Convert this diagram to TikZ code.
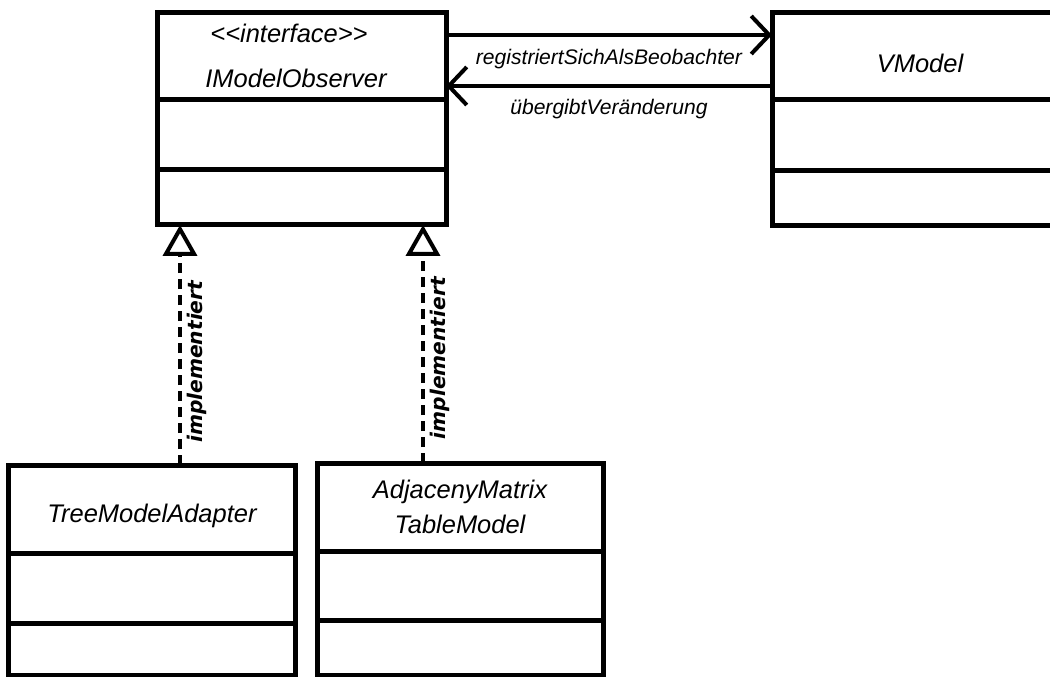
\documentclass[tikz,border=0pt]{standalone}
\usepackage{fontspec}
\usepackage{tikz}
\usetikzlibrary{arrows.meta, positioning}

\newfontfamily\umlfont{Liberation Sans}
\newfontfamily\notefont{DejaVu Sans}

\tikzset{
    classbox/.style={draw, rectangle, line width=0.1cm, anchor=north west,
        inner sep=0pt, outer sep=0pt},
    classline/.style={line width=0.1cm},
    classname/.style={font=\umlfont\itshape\fontsize{14.5}{20}\selectfont,
        anchor=base, align=center},
    msgarrow/.style={line width=0.08cm,
        -{Straight Barb[length=0.36cm, width=0.76cm]}},
    msglabel/.style={font=\umlfont\itshape\fontsize{12}{14}\selectfont,
        anchor=base},
    realizes/.style={line width=0.08cm, dash pattern=on 0.2cm off 0.12cm,
        -{Triangle[open, length=0.62cm, width=0.68cm]}},
    reallabel/.style={font=\notefont\bfseries\itshape\fontsize{11.5}{13}\selectfont,
        rotate=90, anchor=north, inner sep=3pt}
}

\begin{document}
\begin{tikzpicture}[x=1cm, y=1cm]
\useasboundingbox (0,0) rectangle (21,-13.54);
\clip (0,0) rectangle (21,-13.54);

% === class boxes ===
\node[classbox, minimum width=5.78cm, minimum height=4.24cm] (observer) at (3.14,-0.26) {};
\node[classbox, minimum width=6cm, minimum height=4.26cm] (vmodel) at (15.44,-0.26) {};
\node[classbox, minimum width=5.72cm, minimum height=4.2cm] (tree) at (0.18,-9.30) {};
\node[classbox, minimum width=5.72cm, minimum height=4.24cm] (adjmatrix) at (6.34,-9.26) {};

% compartments
\draw[classline] ([yshift=-1.74cm]observer.north west) -- ([yshift=-1.74cm]observer.north east);
\draw[classline] ([yshift=-3.14cm]observer.north west) -- ([yshift=-3.14cm]observer.north east);
\draw[classline] ([yshift=-1.74cm]vmodel.north west) -- ([yshift=-1.74cm]vmodel.north east);
\draw[classline] ([yshift=-3.16cm]vmodel.north west) -- ([yshift=-3.16cm]vmodel.north east);
\draw[classline] ([yshift=-1.76cm]tree.north west) -- ([yshift=-1.76cm]tree.north east);
\draw[classline] ([yshift=-3.16cm]tree.north west) -- ([yshift=-3.16cm]tree.north east);
\draw[classline] ([yshift=-1.76cm]adjmatrix.north west) -- ([yshift=-1.76cm]adjmatrix.north east);
\draw[classline] ([yshift=-3.14cm]adjmatrix.north west) -- ([yshift=-3.14cm]adjmatrix.north east);

% class names
\node[classname] (stereotype) at (5.78,-0.86) {<<interface>>};
\node[classname] (observername) at (5.92,-1.76) {IModelObserver};
\node[classname] (vmodelname) at (18.4,-1.46) {VModel};
\node[classname] (treename) at (3.04,-10.44) {TreeModelAdapter};
\node[classname, anchor=center] (adjname) at (9.2,-10.13) {AdjacenyMatrix\\TableModel};

% === messages ===
\draw[msgarrow] ([yshift=-0.44cm]observer.north east) -- ([yshift=-0.44cm]vmodel.north west)
    node[msglabel, midway, yshift=-0.6cm] {registriertSichAlsBeobachter};
\draw[msgarrow] ([yshift=-1.46cm]vmodel.north west) -- ([yshift=-1.46cm]observer.north east)
    node[msglabel, midway, yshift=-0.58cm] {übergibtVeränderung};

% === realizations ===
\coordinate (treelink) at (3.6,-8);
\coordinate (adjlink) at (8.46,-8);
\draw[realizes] (tree.north -| treelink) -- (observer.south -| treelink)
    node[reallabel, pos=0.43] {implementiert};
\draw[realizes] (adjmatrix.north -| adjlink) -- (observer.south -| adjlink)
    node[reallabel, pos=0.44] {implementiert};

\end{tikzpicture}
\end{document}
